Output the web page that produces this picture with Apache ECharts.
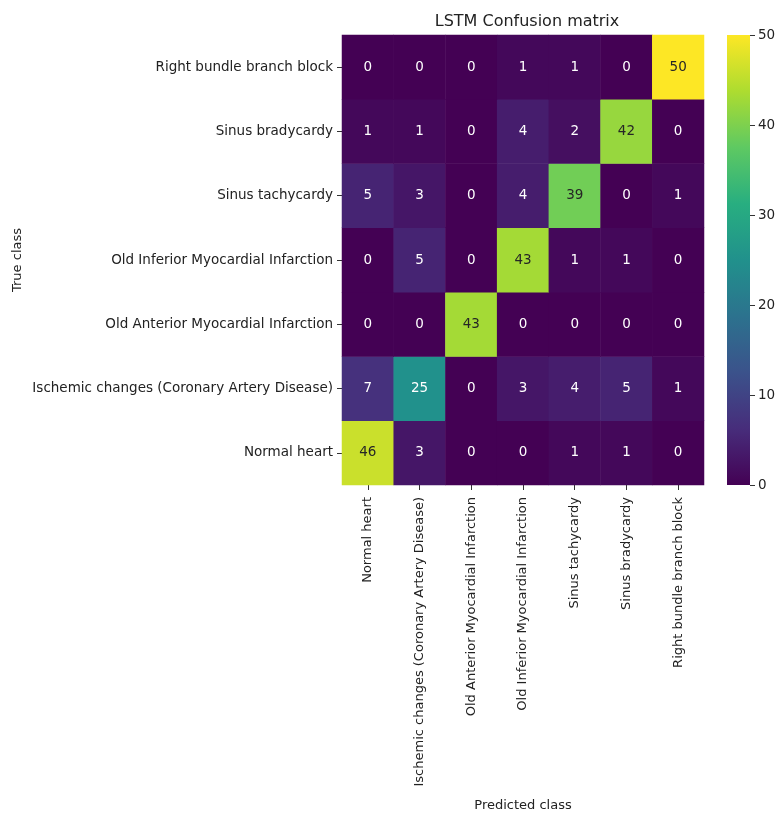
<!DOCTYPE html>
<html>
<head>
<meta charset="utf-8">
<script src="https://cdn.jsdelivr.net/npm/echarts@6/dist/echarts.min.js"></script>
<style>html,body{margin:0;padding:0;background:#fff}#c{width:776px;height:816px}</style>
</head>
<body>
<div id="c"></div>
<script>
const predictedClasses = ["Normal heart","Ischemic changes (Coronary Artery Disease)","Old Anterior Myocardial Infarction","Old Inferior Myocardial Infarction","Sinus tachycardy","Sinus bradycardy","Right bundle branch block"];
const trueClasses = ["Normal heart","Ischemic changes (Coronary Artery Disease)","Old Anterior Myocardial Infarction","Old Inferior Myocardial Infarction","Sinus tachycardy","Sinus bradycardy","Right bundle branch block"];
// rows = true class, cols = predicted class
const rowNormal    = [46, 3, 0, 0, 1, 1, 0];
const rowIschemic  = [7, 25, 0, 3, 4, 5, 1];
const rowAnterior  = [0, 0, 43, 0, 0, 0, 0];
const rowInferior  = [0, 5, 0, 43, 1, 1, 0];
const rowTachy     = [5, 3, 0, 4, 39, 0, 1];
const rowBrady     = [1, 1, 0, 4, 2, 42, 0];
const rowRBBB      = [0, 0, 0, 1, 1, 0, 50];
const colorbarMax = 50;
const colorbarTicks = [0, 10, 20, 30, 40, 50];

const rows = [rowNormal, rowIschemic, rowAnterior, rowInferior, rowTachy, rowBrady, rowRBBB];
const viridis = ['#440154','#472d7b','#3b528b','#2c728e','#21918c','#28ae80','#5ec962','#addc30','#fde725'];

const data = [];
rows.forEach((r, yi) => r.forEach((v, xi) => {
  data.push({value: [xi, yi, v], label: {color: v >= 35 ? '#262626' : '#ffffff'}});
}));

const font = 'DejaVu Sans';
const chart = echarts.init(document.getElementById('c'));
const gradStops = viridis.map((c, i) => ({offset: i / (viridis.length - 1), color: c}));
chart.setOption({
  animation: false,
  textStyle: {fontFamily: font},
  title: {text: 'LSTM Confusion matrix', left: 522, top: 9, textAlign: 'center',
    textStyle: {fontFamily: font, fontSize: 16, fontWeight: 'normal', color: '#222'}},
  grid: [
    {left: 342, top: 35, width: 362, height: 450, outerBoundsMode: 'none', containLabel: false},
    {left: 727, top: 35, width: 23, height: 450, outerBoundsMode: 'none', containLabel: false}
  ],
  xAxis: [
    {type: 'category', gridIndex: 0, data: predictedClasses, position: 'bottom',
      axisLine: {show: false}, splitLine: {show: false},
      axisTick: {show: true, alignWithLabel: true, length: 5, lineStyle: {color: '#333'}},
      axisLabel: {rotate: 90, fontSize: 13, color: '#222', fontFamily: font, margin: 12, interval: 0},
      name: 'Predicted class', nameLocation: 'middle', nameGap: 314,
      nameTextStyle: {fontSize: 13, color: '#222', fontFamily: font}},
    {type: 'category', gridIndex: 1, data: ['cb'], show: false}
  ],
  yAxis: [
    {type: 'category', gridIndex: 0, data: trueClasses,
      axisLine: {show: false}, splitLine: {show: false},
      axisTick: {show: true, alignWithLabel: true, length: 5, lineStyle: {color: '#333'}},
      axisLabel: {fontSize: 13.5, color: '#222', fontFamily: font, margin: 9, interval: 0},
      name: 'True class', nameLocation: 'middle', nameGap: 318, nameRotate: 90,
      nameTextStyle: {fontSize: 13, color: '#222', fontFamily: font}},
    {type: 'value', gridIndex: 1, position: 'right', min: 0, max: colorbarMax, interval: 10,
      axisLine: {show: false}, splitLine: {show: false},
      axisTick: {show: true, length: 5, lineStyle: {color: '#333'}},
      axisLabel: {fontSize: 13.5, color: '#222', fontFamily: font, margin: 8,
        formatter: v => colorbarTicks.includes(v) ? String(v) : ''}}
  ],
  visualMap: {show: false, min: 0, max: colorbarMax, seriesIndex: 0, dimension: 2,
    inRange: {color: viridis}},
  series: [
    {type: 'heatmap', xAxisIndex: 0, yAxisIndex: 0, data: data,
      label: {show: true, fontSize: 13.5, fontFamily: font},
      itemStyle: {borderWidth: 0}},
    {type: 'bar', xAxisIndex: 1, yAxisIndex: 1, data: [colorbarMax], barWidth: '100%',
      silent: true,
      itemStyle: {color: new echarts.graphic.LinearGradient(0, 1, 0, 0, gradStops)}}
  ]
});
</script>
</body>
</html>
